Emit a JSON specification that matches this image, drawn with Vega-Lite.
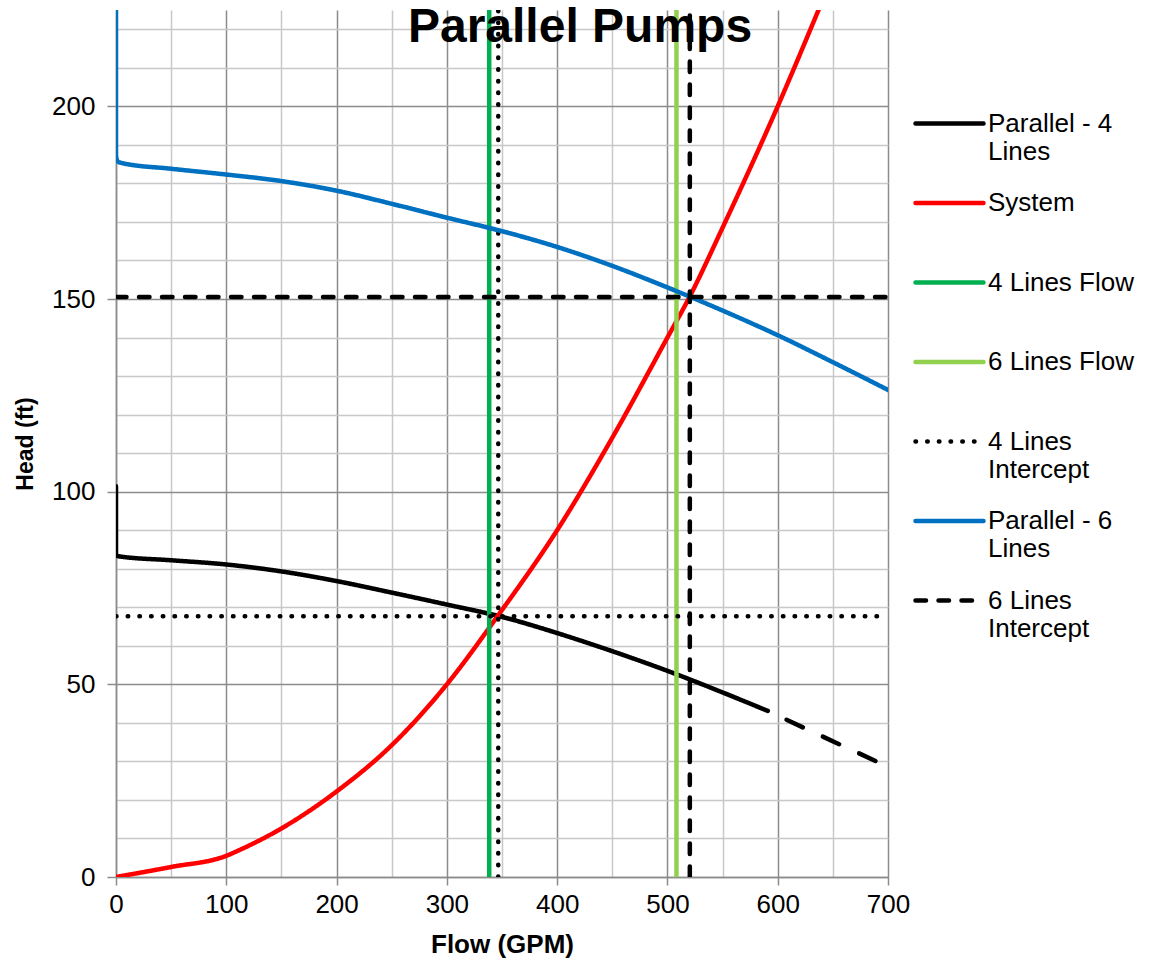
{
  "$schema": "https://vega.github.io/schema/vega-lite/v6.json",
  "width": 772,
  "height": 867,
  "autosize": {"type": "none"},
  "padding": {"left": 116, "top": 10, "right": 265, "bottom": 86},
  "background": "white",
  "title": {
    "text": "Parallel Pumps",
    "font": "Liberation Sans",
    "fontSize": 48,
    "fontWeight": "bold",
    "color": "black",
    "anchor": "middle",
    "frame": "group",
    "offset": 0,
    "baseline": "alphabetic",
    "dx": 78,
    "dy": 80
  },
  "config": {
    "view": {"stroke": null},
    "font": "Liberation Sans",
    "legend": {
      "orient": "none",
      "legendX": 797,
      "legendY": 77,
      "padding": 0,
      "symbolType": "stroke",
      "symbolSize": 4624,
      "symbolStrokeWidth": 4.5,
      "labelFont": "Liberation Sans",
      "labelFontSize": 26,
      "labelColor": "black",
      "labelLineHeight": 30,
      "labelOffset": 2,
      "labelLimit": 300,
      "gridAlign": "all",
      "rowPadding": 1.5
    }
  },
  "datasets": {
    "curves": [
      {"series": "Parallel - 4 Lines", "kind": "curve4", "seg": "v", "flow": 0, "head": 101.4},
      {"series": "Parallel - 4 Lines", "kind": "curve4", "seg": "v", "flow": 0, "head": 83.5},
      {"series": "Parallel - 4 Lines", "kind": "curve4", "seg": "a", "flow": 0, "head": 83.5},
      {"series": "Parallel - 4 Lines", "kind": "curve4", "seg": "a", "flow": 3, "head": 83.2},
      {"series": "Parallel - 4 Lines", "kind": "curve4", "seg": "a", "flow": 50, "head": 82.2},
      {"series": "Parallel - 4 Lines", "kind": "curve4", "seg": "a", "flow": 100, "head": 81.1},
      {"series": "Parallel - 4 Lines", "kind": "curve4", "seg": "a", "flow": 150, "head": 79.3},
      {"series": "Parallel - 4 Lines", "kind": "curve4", "seg": "a", "flow": 200, "head": 76.8},
      {"series": "Parallel - 4 Lines", "kind": "curve4", "seg": "a", "flow": 250, "head": 73.8},
      {"series": "Parallel - 4 Lines", "kind": "curve4", "seg": "a", "flow": 300, "head": 70.7},
      {"series": "Parallel - 4 Lines", "kind": "curve4", "seg": "a", "flow": 350, "head": 67.5},
      {"series": "Parallel - 4 Lines", "kind": "curve4", "seg": "a", "flow": 400, "head": 63.3},
      {"series": "Parallel - 4 Lines", "kind": "curve4", "seg": "a", "flow": 450, "head": 58.6},
      {"series": "Parallel - 4 Lines", "kind": "curve4", "seg": "a", "flow": 500, "head": 53.5},
      {"series": "Parallel - 4 Lines", "kind": "curve4", "seg": "a", "flow": 550, "head": 47.9},
      {"series": "Parallel - 4 Lines", "kind": "curve4", "seg": "a", "flow": 591, "head": 43.1},
      {"series": "System", "kind": "curve4", "seg": "a", "flow": 0, "head": 0},
      {"series": "System", "kind": "curve4", "seg": "a", "flow": 50, "head": 2.6},
      {"series": "System", "kind": "curve4", "seg": "a", "flow": 100, "head": 5.5},
      {"series": "System", "kind": "curve4", "seg": "a", "flow": 112, "head": 7},
      {"series": "System", "kind": "curve4", "seg": "a", "flow": 150, "head": 12.6},
      {"series": "System", "kind": "curve4", "seg": "a", "flow": 200, "head": 22.2},
      {"series": "System", "kind": "curve4", "seg": "a", "flow": 250, "head": 34.2},
      {"series": "System", "kind": "curve4", "seg": "a", "flow": 300, "head": 50},
      {"series": "System", "kind": "curve4", "seg": "a", "flow": 346, "head": 67.7},
      {"series": "System", "kind": "curve4", "seg": "a", "flow": 400, "head": 90},
      {"series": "System", "kind": "curve4", "seg": "a", "flow": 450, "head": 114},
      {"series": "System", "kind": "curve4", "seg": "a", "flow": 500, "head": 140},
      {"series": "System", "kind": "curve4", "seg": "a", "flow": 520, "head": 150.5},
      {"series": "System", "kind": "curve4", "seg": "a", "flow": 550, "head": 168.5},
      {"series": "System", "kind": "curve4", "seg": "a", "flow": 600, "head": 200},
      {"series": "System", "kind": "curve4", "seg": "a", "flow": 637, "head": 225},
      {"series": "4 Lines Flow", "kind": "rule4", "seg": "a", "flow": 338.4, "head": 0},
      {"series": "4 Lines Flow", "kind": "rule4", "seg": "a", "flow": 338.4, "head": 225},
      {"series": "6 Lines Flow", "kind": "rule4", "seg": "a", "flow": 508.2, "head": 0},
      {"series": "6 Lines Flow", "kind": "rule4", "seg": "a", "flow": 508.2, "head": 225},
      {"series": "4 Lines Intercept", "kind": "rule4", "seg": "v", "flow": 346.6, "head": 0},
      {"series": "4 Lines Intercept", "kind": "rule4", "seg": "v", "flow": 346.6, "head": 225},
      {"series": "4 Lines Intercept", "kind": "rule4", "seg": "h", "flow": 0, "head": 67.7},
      {"series": "4 Lines Intercept", "kind": "rule4", "seg": "h", "flow": 700, "head": 67.7},
      {"series": "Parallel - 6 Lines", "kind": "rule6", "seg": "v", "flow": 0, "head": 225},
      {"series": "Parallel - 6 Lines", "kind": "rule6", "seg": "v", "flow": 0, "head": 187},
      {"series": "Parallel - 6 Lines", "kind": "curve6", "seg": "a", "flow": 0, "head": 187},
      {"series": "Parallel - 6 Lines", "kind": "curve6", "seg": "a", "flow": 1.5, "head": 185.7},
      {"series": "Parallel - 6 Lines", "kind": "curve6", "seg": "a", "flow": 5, "head": 185.3},
      {"series": "Parallel - 6 Lines", "kind": "curve6", "seg": "a", "flow": 50, "head": 183.8},
      {"series": "Parallel - 6 Lines", "kind": "curve6", "seg": "a", "flow": 100, "head": 182.3},
      {"series": "Parallel - 6 Lines", "kind": "curve6", "seg": "a", "flow": 150, "head": 180.6},
      {"series": "Parallel - 6 Lines", "kind": "curve6", "seg": "a", "flow": 200, "head": 178.1},
      {"series": "Parallel - 6 Lines", "kind": "curve6", "seg": "a", "flow": 250, "head": 174.7},
      {"series": "Parallel - 6 Lines", "kind": "curve6", "seg": "a", "flow": 300, "head": 171.1},
      {"series": "Parallel - 6 Lines", "kind": "curve6", "seg": "a", "flow": 350, "head": 167.6},
      {"series": "Parallel - 6 Lines", "kind": "curve6", "seg": "a", "flow": 400, "head": 163.5},
      {"series": "Parallel - 6 Lines", "kind": "curve6", "seg": "a", "flow": 450, "head": 158.6},
      {"series": "Parallel - 6 Lines", "kind": "curve6", "seg": "a", "flow": 500, "head": 153},
      {"series": "Parallel - 6 Lines", "kind": "curve6", "seg": "a", "flow": 550, "head": 147},
      {"series": "Parallel - 6 Lines", "kind": "curve6", "seg": "a", "flow": 600, "head": 140.6},
      {"series": "Parallel - 6 Lines", "kind": "curve6", "seg": "a", "flow": 650, "head": 133.6},
      {"series": "Parallel - 6 Lines", "kind": "curve6", "seg": "a", "flow": 700, "head": 126.4},
      {"series": "6 Lines Intercept", "kind": "rule6", "seg": "v", "flow": 520.3, "head": 0},
      {"series": "6 Lines Intercept", "kind": "rule6", "seg": "v", "flow": 520.3, "head": 225},
      {"series": "6 Lines Intercept", "kind": "rule6", "seg": "h", "flow": 0, "head": 150.5},
      {"series": "6 Lines Intercept", "kind": "rule6", "seg": "h", "flow": 700, "head": 150.5}
    ],
    "extension": [
      {"flow": 608, "head": 40.8},
      {"flow": 700, "head": 28.6}
    ]
  },
  "encoding": {
    "x": {
      "field": "flow",
      "type": "quantitative",
      "scale": {"domain": [0, 700], "nice": false, "zero": false},
      "axis": {
        "title": "Flow (GPM)",
        "titleFont": "Liberation Sans",
        "titleFontSize": 26,
        "titleFontWeight": "bold",
        "titleColor": "black",
        "titlePadding": 14,
        "values": [0, 50, 100, 150, 200, 250, 300, 350, 400, 450, 500, 550, 600, 650, 700],
        "labelExpr": "datum.value % 100 === 0 ? datum.label : ''",
        "labelFont": "Liberation Sans",
        "labelFontSize": 26,
        "labelColor": "black",
        "labelPadding": 6,
        "labelFlush": false,
        "labelOverlap": false,
        "tickSize": 8,
        "tickWidth": 1.5,
        "tickColor": {"condition": {"test": "datum.value % 100 === 0", "value": "#8c8c8c"}, "value": "transparent"},
        "grid": true,
        "gridWidth": 1.5,
        "gridColor": {"condition": {"test": "datum.value % 100 === 0", "value": "#8c8c8c"}, "value": "#c8c8c8"},
        "domainColor": "#8c8c8c",
        "domainWidth": 1.5
      }
    },
    "y": {
      "field": "head",
      "type": "quantitative",
      "scale": {"domain": [0, 225], "nice": false, "zero": false},
      "axis": {
        "title": "Head (ft)",
        "titleFont": "Liberation Sans",
        "titleFontSize": 23,
        "titleFontWeight": "bold",
        "titleColor": "black",
        "titlePadding": 14,
        "values": [0, 10, 20, 30, 40, 50, 60, 70, 80, 90, 100, 110, 120, 130, 140, 150, 160, 170, 180, 190, 200, 210, 220],
        "labelExpr": "datum.value % 50 === 0 ? datum.label : ''",
        "labelFont": "Liberation Sans",
        "labelFontSize": 26,
        "labelColor": "black",
        "labelPadding": 12,
        "labelFlush": false,
        "labelOverlap": false,
        "tickSize": 9,
        "tickWidth": 1.5,
        "tickColor": {"condition": {"test": "datum.value % 50 === 0", "value": "#8c8c8c"}, "value": "transparent"},
        "grid": true,
        "gridWidth": 1.5,
        "gridColor": {"condition": {"test": "datum.value % 50 === 0", "value": "#8c8c8c"}, "value": "#c8c8c8"},
        "domainColor": "#8c8c8c",
        "domainWidth": 1.5
      }
    },
    "color": {
      "field": "series",
      "type": "nominal",
      "scale": {
        "domain": ["Parallel - 4 Lines", "System", "4 Lines Flow", "6 Lines Flow", "4 Lines Intercept", "Parallel - 6 Lines", "6 Lines Intercept"],
        "range": ["#000000", "#FF0000", "#00B050", "#92D050", "#000000", "#0070C0", "#000000"]
      },
      "legend": {
        "title": null,
        "labelExpr": "datum.label == 'Parallel - 4 Lines' ? ['Parallel - 4', 'Lines'] : datum.label == 'Parallel - 6 Lines' ? ['Parallel - 6', 'Lines'] : datum.label == '4 Lines Intercept' ? ['4 Lines', 'Intercept'] : datum.label == '6 Lines Intercept' ? ['6 Lines', 'Intercept'] : datum.label",
        "encode": {
          "symbols": {"update": {"strokeCap": {"value": "round"}}}
        }
      }
    },
    "strokeDash": {
      "field": "series",
      "type": "nominal",
      "scale": {
        "domain": ["Parallel - 4 Lines", "System", "4 Lines Flow", "6 Lines Flow", "4 Lines Intercept", "Parallel - 6 Lines", "6 Lines Intercept"],
        "range": [[1, 0], [1, 0], [1, 0], [1, 0], [0.5, 11.2], [1, 0], [10.5, 12.5]]
      },
      "legend": {
        "title": null,
        "labelExpr": "datum.label == 'Parallel - 4 Lines' ? ['Parallel - 4', 'Lines'] : datum.label == 'Parallel - 6 Lines' ? ['Parallel - 6', 'Lines'] : datum.label == '4 Lines Intercept' ? ['4 Lines', 'Intercept'] : datum.label == '6 Lines Intercept' ? ['6 Lines', 'Intercept'] : datum.label",
        "encode": {
          "symbols": {"update": {"strokeCap": {"value": "round"}}}
        }
      }
    },
    "detail": {"field": "seg", "type": "nominal"},
    "order": {"value": null}
  },
  "layer": [
    {
      "data": {"name": "curves"},
      "transform": [{"filter": "datum.kind == 'curve4' && datum.seg == 'a'"}],
      "mark": {"type": "line", "strokeWidth": 4.5, "strokeCap": "round", "strokeJoin": "round", "clip": true, "interpolate": "monotone"}
    },
    {
      "data": {"name": "curves"},
      "transform": [{"filter": "datum.kind == 'rule4' || (datum.kind == 'curve4' && datum.seg == 'v')"}],
      "mark": {"type": "line", "strokeWidth": 4.5, "strokeCap": "round", "strokeJoin": "round", "clip": true}
    },
    {
      "data": {"name": "extension"},
      "mark": {"type": "line", "strokeWidth": 4.5, "strokeCap": "round", "color": "#000000", "strokeDash": [18, 22], "clip": true},
      "encoding": {
        "x": {"field": "flow", "type": "quantitative"},
        "y": {"field": "head", "type": "quantitative"},
        "color": null,
        "strokeDash": null,
        "detail": null
      }
    },
    {
      "data": {"name": "curves"},
      "transform": [{"filter": "datum.kind == 'curve6'"}],
      "mark": {"type": "line", "strokeWidth": 4.5, "strokeCap": "round", "strokeJoin": "round", "clip": true, "interpolate": "monotone"}
    },
    {
      "data": {"name": "curves"},
      "transform": [{"filter": "datum.kind == 'rule6'"}],
      "mark": {"type": "line", "strokeWidth": 4.5, "strokeCap": "round", "strokeJoin": "round", "clip": true}
    }
  ]
}
